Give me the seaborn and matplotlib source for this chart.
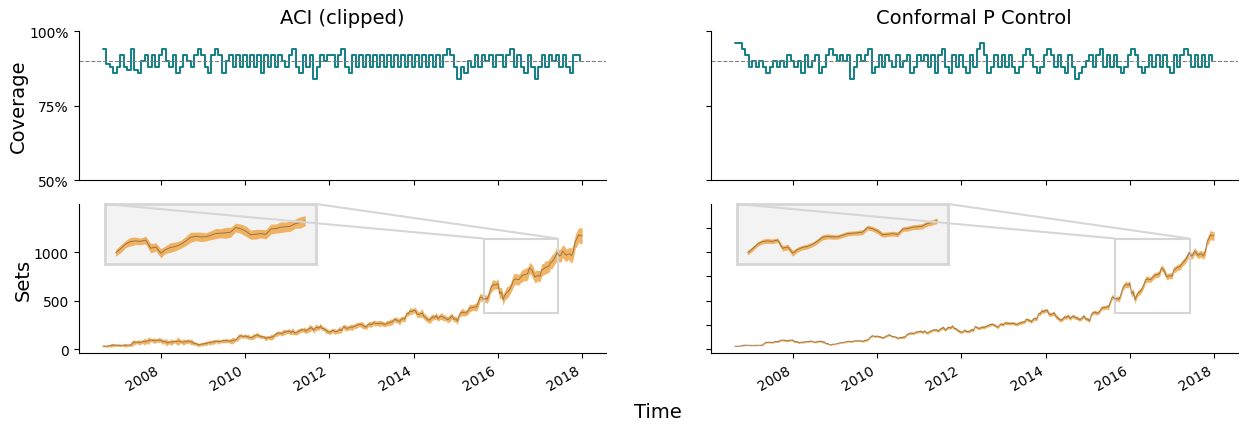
import numpy as np
import pandas as pd
import matplotlib
matplotlib.use("Agg")
import matplotlib.pyplot as plt
import matplotlib.dates as mdates
from matplotlib.ticker import PercentFormatter
from mpl_toolkits.axes_grid1.inset_locator import mark_inset
import seaborn as sns

# -----------------------------
# Data
# -----------------------------
methods = ["ACI (clipped)", "Conformal P Control"]

# monthly rolling coverage (%), Aug 2006 .. Dec 2017
aci_coverage = [
    94, 89, 88, 86, 88,
    92, 88, 87, 94, 87, 86, 90, 92, 88, 92, 88, 92,
    94, 90, 88, 92, 86, 88, 92, 90, 88, 92, 94, 92,
    88, 86, 92, 94, 92, 86, 90, 92, 88, 92, 88, 92,
    88, 92, 88, 92, 86, 92, 88, 92, 88, 92, 90, 88,
    92, 94, 88, 86, 92, 88, 92, 84, 88, 92, 90, 92,
    92, 88, 92, 94, 88, 86, 92, 88, 92, 88, 92, 88,
    92, 88, 92, 88, 92, 88, 92, 88, 92, 88, 92, 88,
    92, 88, 92, 88, 92, 88, 92, 88, 92, 94, 92, 88,
    84, 88, 86, 90, 88, 92, 88, 92, 90, 92, 88, 92,
    92, 88, 92, 94, 88, 92, 88, 86, 92, 88, 84, 88,
    92, 88, 92, 90, 92, 88, 92, 88, 86, 92, 92, 90,
]
pc_coverage = [
    96, 96, 94, 92, 88,
    90, 88, 90, 88, 86, 88, 90, 88, 90, 88, 92, 90,
    88, 90, 86, 92, 88, 90, 92, 86, 88, 92, 94, 92,
    90, 92, 90, 92, 84, 88, 92, 90, 92, 94, 86, 88,
    92, 88, 92, 90, 88, 92, 88, 90, 92, 86, 88, 92,
    90, 92, 88, 92, 86, 92, 94, 88, 86, 92, 88, 92,
    88, 86, 92, 88, 94, 96, 92, 86, 88, 92, 88, 92,
    88, 92, 88, 86, 88, 92, 94, 92, 88, 86, 88, 92,
    94, 92, 88, 92, 88, 86, 92, 88, 84, 86, 88, 90,
    92, 88, 92, 94, 88, 92, 88, 92, 88, 86, 88, 92,
    94, 92, 88, 86, 88, 92, 88, 92, 88, 92, 88, 86,
    92, 88, 92, 94, 92, 88, 92, 88, 92, 88, 92, 90,
]

# semi-monthly price (mid-month, month-end), Aug 2006 .. Dec 2017
price = [
    30, 31, 30, 32, 34, 40, 41, 40, 40, 39,
    38, 38, 40, 39, 39, 40, 43, 61, 70, 69, 72, 68, 70, 78, 76, 80, 87, 93, 91, 89, 84, 91, 91, 93,
    76, 78, 72, 65, 72, 71, 73, 79, 77, 82, 81, 73, 72, 76, 80, 81, 73, 73, 56, 57, 46, 43, 51, 51,
    56, 59, 67, 65, 70, 73, 78, 81, 77, 78, 85, 84, 86, 86, 83, 81, 88, 93, 97, 119, 134, 136, 128, 135,
    128, 125, 117, 118, 132, 136, 149, 137, 129, 126, 123, 109, 120, 118, 123, 125, 147, 157, 163, 165, 158, 175, 175, 180,
    185, 170, 186, 173, 163, 180, 186, 196, 197, 197, 185, 204, 213, 222, 194, 215, 224, 216, 237, 213, 210, 192, 183, 173,
    179, 194, 180, 180, 185, 202, 190, 232, 222, 213, 217, 228, 222, 233, 239, 248, 253, 254, 246, 233, 225, 252, 257, 251,
    272, 266, 265, 264, 265, 266, 257, 254, 268, 269, 278, 278, 305, 301, 295, 281, 308, 313, 310, 364, 365, 394, 385, 399,
    396, 359, 355, 362, 371, 336, 324, 304, 297, 313, 332, 325, 345, 313, 333, 339, 324, 322, 307, 306, 326, 339, 308, 310,
    290, 354, 375, 380, 373, 372, 390, 422, 426, 429, 434, 434, 483, 536, 531, 513, 522, 512, 562, 626, 657, 665, 659, 676,
    571, 587, 507, 553, 580, 594, 620, 660, 710, 723, 717, 716, 736, 759, 764, 769, 778, 837, 822, 790, 744, 751, 758, 750,
    817, 824, 842, 845, 853, 887, 902, 925, 960, 995, 958, 968, 1010, 988, 966, 981, 978, 961, 1003, 1105, 1136, 1177, 1165, 1170,
]

# half widths of the prediction sets, same semi-monthly grid
aci_halfwidth = [
    8, 10, 9, 14, 12, 20, 15, 12, 10, 14,
    12, 10, 14, 22, 12, 11, 18, 30, 25, 15, 20, 28, 16, 22, 35, 18, 40, 20, 16, 30, 22, 18, 26, 20,
    30, 18, 40, 22, 18, 35, 20, 16, 28, 45, 20, 18, 32, 22, 25, 18, 30, 24, 20, 16, 22, 14, 18, 20,
    16, 24, 14, 30, 18, 26, 20, 16, 28, 14, 22, 18, 24, 16, 20, 28, 35, 22, 18, 30, 24, 20, 16, 22,
    20, 28, 16, 22, 30, 20, 26, 18, 24, 14, 20, 26, 18, 22, 30, 24, 20, 28, 22, 18, 26, 32, 24, 20,
    28, 22, 35, 24, 20, 30, 22, 26, 18, 32, 24, 28, 40, 22, 26, 34, 30, 22, 28, 24, 20, 30, 24, 22,
    26, 20, 30, 22, 28, 35, 24, 22, 30, 26, 22, 28, 32, 24, 26, 30, 22, 28, 36, 24, 26, 22, 30, 28,
    24, 30, 22, 26, 32, 24, 28, 22, 30, 26, 34, 28, 24, 30, 26, 36, 30, 26, 32, 28, 24, 34, 30, 26,
    32, 40, 28, 34, 45, 30, 36, 28, 32, 38, 30, 26, 34, 28, 30, 36, 32, 28, 30, 34, 38, 30, 28, 32,
    36, 30, 34, 40, 32, 28, 36, 42, 34, 30, 38, 45, 50, 40, 36, 44, 38, 42, 50, 46, 55, 48, 42, 50,
    60, 52, 58, 48, 62, 55, 50, 58, 66, 54, 60, 52, 56, 64, 58, 70, 62, 55, 60, 66, 58, 62, 54, 60,
    64, 58, 70, 62, 66, 60, 72, 64, 68, 75, 62, 70, 66, 72, 64, 60, 70, 78, 74, 68, 80, 72, 85, 78,
]
pc_halfwidth = [
    4, 5, 4, 6, 5, 8, 6, 5, 5, 6,
    5, 5, 6, 5, 5, 6, 8, 10, 9, 8, 8, 9, 8, 10, 9, 12, 10, 9, 10, 12, 11, 10, 9, 10,
    12, 10, 11, 9, 8, 10, 9, 8, 10, 9, 8, 9, 8, 10, 9, 11, 12, 10, 9, 8, 7, 6, 7, 6,
    6, 7, 7, 8, 7, 8, 8, 9, 8, 9, 9, 8, 8, 9, 9, 10, 12, 11, 10, 12, 11, 10, 9, 10,
    10, 11, 9, 10, 11, 10, 12, 11, 10, 9, 10, 11, 10, 12, 13, 12, 11, 12, 13, 12, 11, 12, 13, 12,
    13, 12, 14, 13, 12, 14, 13, 12, 13, 14, 15, 14, 16, 15, 14, 15, 16, 14, 15, 14, 13, 15, 14, 13,
    13, 14, 13, 14, 15, 16, 14, 13, 14, 15, 14, 15, 16, 15, 14, 16, 15, 14, 16, 15, 14, 15, 16, 15,
    16, 17, 16, 15, 16, 17, 16, 15, 17, 18, 17, 16, 18, 17, 16, 18, 19, 18, 20, 19, 20, 22, 20, 19,
    22, 24, 21, 20, 22, 24, 21, 20, 19, 20, 21, 20, 19, 20, 18, 19, 20, 19, 18, 17, 19, 20, 19, 18,
    20, 22, 20, 21, 20, 19, 20, 22, 21, 20, 22, 28, 26, 25, 24, 26, 25, 28, 30, 28, 30, 32, 30, 29,
    34, 36, 38, 32, 30, 31, 30, 32, 34, 32, 30, 28, 29, 30, 28, 30, 32, 31, 30, 34, 32, 30, 31, 30,
    30, 32, 31, 33, 34, 32, 35, 36, 38, 36, 35, 34, 36, 35, 34, 36, 35, 40, 42, 40, 45, 48, 46, 44,
]

# zoomed window shown in the inset
zoom_x = ("2015-08-29", "2017-06-02")
zoom_y = (373, 1139)

# -----------------------------
# Build frames
# -----------------------------
months = pd.date_range("2006-08-01", "2017-12-01", freq="MS")
cov_dates = months + pd.Timedelta(days=14)
set_dates = pd.DatetimeIndex(
    [d for m in months for d in (m + pd.Timedelta(days=14), m + pd.offsets.MonthEnd(0))]
)

cov_df = pd.DataFrame({"Time": cov_dates,
                       methods[0]: np.array(aci_coverage) / 100,
                       methods[1]: np.array(pc_coverage) / 100})
sets_df = pd.DataFrame({"Time": set_dates, "price": price})
halfwidths = {methods[0]: np.array(aci_halfwidth), methods[1]: np.array(pc_halfwidth)}

teal = "#118085"
orange = "#efa74a"
grey_box = "#d6d6d6"

# -----------------------------
# Plot
# -----------------------------
sns.set_style("ticks", {"axes.edgecolor": "black", "axes.labelcolor": "black",
                        "text.color": "black", "xtick.color": "black",
                        "ytick.color": "black"})
fig, axes = plt.subplots(2, 2, figsize=(12.41, 4.27), dpi=100, sharex=True)
fig.subplots_adjust(left=0.0634, right=0.9976, top=0.925, bottom=0.1705,
                    wspace=0.198, hspace=0.159)

for j, method in enumerate(methods):
    # coverage row
    ax = axes[0, j]
    sns.lineplot(data=cov_df, x="Time", y=method, ax=ax, color=teal,
                 linewidth=1.4, drawstyle="steps-post")
    ax.axhline(0.9, color="gray", linestyle="--", linewidth=0.8)
    ax.set_ylim(0.5, 1.0)
    ax.set_yticks([0.5, 0.75, 1.0])
    ax.yaxis.set_major_formatter(PercentFormatter(1.0, decimals=0))
    ax.set_title(method, fontsize=14)
    ax.set_xlabel("")
    ax.set_ylabel("")

    # sets row
    ax = axes[1, j]
    lo = sets_df["price"] - halfwidths[method]
    hi = sets_df["price"] + halfwidths[method]
    ax.fill_between(sets_df["Time"], lo, hi, color=orange, alpha=0.85, linewidth=0)
    sns.lineplot(data=sets_df, x="Time", y="price", ax=ax, color="black",
                 alpha=0.35, linewidth=0.7)
    ax.set_ylim(-43, 1495)
    ax.set_xlabel("")
    ax.set_ylabel("")

    # inset zoom
    axins = ax.inset_axes([0.05, 0.6, 0.4, 0.4])
    sel = (sets_df["Time"] >= "2015-09-26") & (sets_df["Time"] <= "2017-05-05")
    axins.fill_between(sets_df["Time"][sel], lo[sel], hi[sel], color=orange,
                       alpha=0.85, linewidth=0)
    axins.plot(sets_df["Time"][sel], sets_df["price"][sel], color="black",
               alpha=0.35, linewidth=0.7)
    axins.set_xlim(pd.Timestamp(zoom_x[0]), pd.Timestamp(zoom_x[1]))
    axins.set_ylim(*zoom_y)
    axins.set_xticks([])
    axins.set_yticks([])
    axins.set_facecolor("#f3f3f3")
    for s in axins.spines.values():
        s.set_color(grey_box)
        s.set_linewidth(2)
    pp, p1, p2 = mark_inset(ax, axins, loc1=1, loc2=2, fc="none", ec=grey_box, lw=1.5)
    p1.set_zorder(6)
    p2.set_zorder(6)

for ax in axes.flat:
    sns.despine(ax=ax)
    ax.tick_params(labelsize=10)

axes[1, 0].set_yticks([0, 500, 1000])
axes[1, 1].set_yticks([0, 250, 500, 750, 1000, 1250])
axes[0, 1].set_yticklabels([])
axes[1, 1].set_yticklabels([])

axes[1, 0].xaxis.set_major_locator(mdates.YearLocator(2))
axes[1, 0].xaxis.set_major_formatter(mdates.DateFormatter("%Y"))
for ax in axes[1]:
    plt.setp(ax.get_xticklabels(), rotation=30, ha="right")

axes[0, 0].set_ylabel("Coverage", fontsize=14, labelpad=1)
axes[1, 0].set_ylabel("Sets", fontsize=14, labelpad=1)
fig.text(0.5305, 0.033, "Time", ha="center", va="center", fontsize=14)

plt.savefig("out.png", dpi=100)
